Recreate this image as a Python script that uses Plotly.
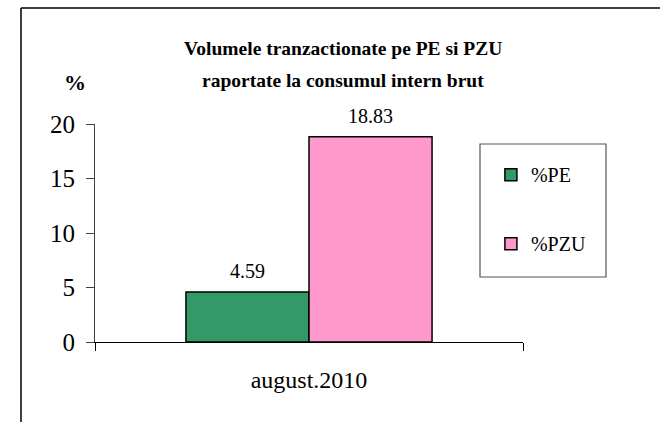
import plotly.graph_objects as go

categories = ["august.2010"]
series_names = ["%PE", "%PZU"]
pe_values = [4.59]
pzu_values = [18.83]
colors = ["#339966", "#FF99CC"]
y_ticks = [0, 5, 10, 15, 20]
title_lines = ["Volumele tranzactionate pe PE si PZU", "raportate la consumul intern brut"]

FONT = "Liberation Serif"

fig = go.Figure()
for name, vals, col in zip(series_names, [pe_values, pzu_values], colors):
    fig.add_trace(go.Bar(
        x=categories, y=vals, name=name, legendgroup=name, offsetgroup=name,
        marker=dict(color=col, line=dict(color="black", width=1.5)),
        hoverinfo="skip",
    ))
    # value labels, placed through the same grouped offsets as the bars
    fig.add_trace(go.Scatter(
        x=categories, y=vals, offsetgroup=name, mode="markers+text",
        marker=dict(size=12, opacity=0), text=[f"{v:.2f}" for v in vals],
        textposition="top center", showlegend=False, hoverinfo="skip",
        textfont=dict(family=FONT, size=20, color="black"), cliponaxis=False,
    ))

fig.update_layout(
    width=660, height=422,
    margin=dict(l=95, r=137, t=124, b=80),
    paper_bgcolor="white", plot_bgcolor="white",
    barmode="group", bargap=0.425, bargroupgap=0,
    scattermode="group", scattergap=0.425,
    font=dict(family=FONT, color="black"),
    title=dict(
        text=f"<b>{title_lines[0]}</b>",
        x=0.52, xanchor="center", y=1 - 48 / 422, yanchor="middle",
        font=dict(family=FONT, size=19.5, color="black"),
    ),
    legend=dict(
        x=0.925, xanchor="left", y=0.857, yanchor="top",
        font=dict(family=FONT, size=20, color="black"),
        tracegroupgap=40, bgcolor="rgba(0,0,0,0)", borderwidth=0,
    ),
    showlegend=True,
)
fig.add_annotation(text=f"<b>{title_lines[1]}</b>", xref="paper", yref="paper",
                   x=(343 - 95) / 428, y=(342 - 80) / 218, xanchor="center", yanchor="middle",
                   showarrow=False, font=dict(family=FONT, size=19.5, color="black"))

fig.update_xaxes(
    showline=True, linecolor="black", linewidth=1.2,
    ticks="outside", tickson="boundaries", ticklen=8, tickcolor="black",
    tickfont=dict(family=FONT, size=24, color="black"),
    ticklabelstandoff=16, showgrid=False, fixedrange=True,
)
fig.update_yaxes(
    range=[0, 20], tickvals=y_ticks, showline=True, linecolor="#404040", linewidth=1.2,
    ticks="outside", ticklen=8, tickcolor="#404040",
    tickfont=dict(family=FONT, size=25, color="black"), ticklabelstandoff=6,
    showgrid=False, zeroline=False, fixedrange=True,
)

# outer chart frame (left and top edges visible)
fig.add_shape(type="line", xref="paper", yref="paper", x0=-0.1729, x1=-0.1729, y0=-0.37, y1=1.532,
              line=dict(color="black", width=1.5))
fig.add_shape(type="line", xref="paper", yref="paper", x0=-0.1729, x1=1.35, y0=1.532, y1=1.532,
              line=dict(color="black", width=1.5))
# legend border
fig.add_shape(type="rect", xref="paper", yref="paper", x0=(480-95)/428, x1=(606-95)/428,
              y0=(342-277)/218, y1=(342-144)/218, line=dict(color="#555555", width=1.2))

fig.add_annotation(text="<b>%</b>", xref="paper", yref="paper", x=(75-95)/428, y=(342-83)/218,
                   xanchor="center", yanchor="middle",
                   showarrow=False, font=dict(family=FONT, size=22, color="black"))

fig.write_html("out.html")
